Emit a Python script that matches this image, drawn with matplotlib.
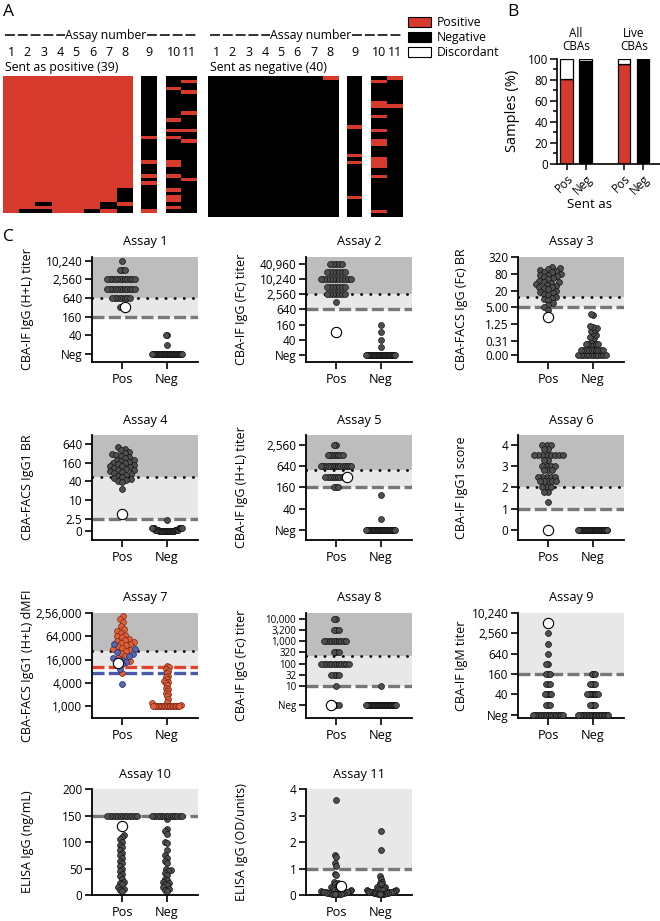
import numpy as np
import matplotlib
matplotlib.use('Agg')
import matplotlib.pyplot as plt
from matplotlib.colors import ListedColormap
from matplotlib.lines import Line2D
from matplotlib.patches import Rectangle
from matplotlib.ticker import NullLocator, MultipleLocator

plt.rcParams['font.family'] = ['Open Sans', 'DejaVu Sans']

W, H = 660, 921
fig = plt.figure(figsize=(6.6, 9.21), dpi=100)


def fr(x0, y0, x1, y1):
    return [x0 / W, 1 - y1 / H, (x1 - x0) / W, (y1 - y0) / H]


def ftxt(x, y, s, **kw):
    return fig.text(x / W, 1 - y / H, s, **kw)


RED = '#d63a2c'

# ---------------- Panel A data ----------------
N_POS, N_NEG = 39, 40
# Sent as positive: rows (0 = top) reported negative, per assay number
POS_BLACK_ROWS = {1: [], 2: [38], 3: [36, 38], 4: [], 5: [], 6: [38], 7: [36, 37],
                  8: [32, 33, 34, 35, 37, 38]}
# for assays 9-11 the rows reported positive
POS_RED_ROWS = {9: [17, 24, 28, 30, 38],
                10: [3, 12, 15, 17, 24, 25, 28, 32, 34, 35, 37],
                11: [1, 4, 10, 15, 18, 29]}
# Sent as negative: rows reported positive
NEG_RED_ROWS = {1: [], 2: [], 3: [], 4: [], 5: [], 6: [], 7: [], 8: [0],
                9: [14, 22, 24, 34],
                10: [1, 7, 8, 11, 15, 18, 19, 23, 24, 25, 28, 38],
                11: [0, 8]}

pos_mat = np.ones((N_POS, 11))
for a, rows in POS_BLACK_ROWS.items():
    pos_mat[rows, a - 1] = 0
for a, rows in POS_RED_ROWS.items():
    pos_mat[:, a - 1] = 0
    pos_mat[rows, a - 1] = 1
neg_mat = np.zeros((N_NEG, 11))
for a, rows in NEG_RED_ROWS.items():
    neg_mat[rows, a - 1] = 1

cmapA = ListedColormap(['#000000', RED])


def heat(x0, x1, y0, y1, mat):
    ax = fig.add_axes(fr(x0, y0, x1, y1))
    ax.imshow(mat, cmap=cmapA, vmin=0, vmax=1, aspect='auto', interpolation='nearest')
    ax.set_axis_off()
    return ax


def heat_side(xs, y0, y1, mat, label, hx):
    (b0, b1), (c0, c1), (d0, d1) = xs
    heat(b0, b1, y0, y1, mat[:, :8])
    heat(c0, c1, y0, y1, mat[:, 8:9])
    heat(d0, d1, y0, y1, mat[:, 9:11])
    cw = (b1 - b0) / 8
    for i in range(8):
        ftxt(b0 + cw * (i + 0.5), 53, str(i + 1), ha='center', va='center', fontsize=9)
    ftxt((c0 + c1) / 2, 53, '9', ha='center', va='center', fontsize=9)
    dw = (d1 - d0) / 2
    ftxt(d0 + dw * 0.5, 53, '10', ha='center', va='center', fontsize=9)
    ftxt(d0 + dw * 1.5, 53, '11', ha='center', va='center', fontsize=9)
    ftxt(b0 + 2, 68, label, ha='left', va='center', fontsize=8.8)
    (l0, l1), tx, (r0, r1) = hx
    for a0, a1 in [(l0, l1), (r0, r1)]:
        fig.add_artist(Line2D([a0 / W, a1 / W], [1 - 35 / H, 1 - 35 / H],
                              transform=fig.transFigure, color='#222222', lw=1.3,
                              ls=(0, (5.5, 1.6))))
    ftxt(tx, 35, 'Assay number', ha='center', va='center', fontsize=8.8)


heat_side([(3, 133), (141, 157), (166, 197)], 76, 213, pos_mat,
          'Sent as positive (39)', ((5, 65), 106, (147, 196)))
heat_side([(208, 338), (347, 362), (371, 403)], 76, 217, neg_mat,
          'Sent as negative (40)', ((210, 270), 311, (352, 402)))
ftxt(3, 12, 'A', ha='left', va='center', fontsize=12.5)

# legend
for i, (lab, fc) in enumerate([('Positive', RED), ('Negative', 'black'), ('Discordant', 'white')]):
    y0 = 17 + 15 * i
    fig.add_artist(Rectangle((408 / W, 1 - (y0 + 10) / H), 23 / W, 10 / H,
                             transform=fig.transFigure, fc=fc, ec='black', lw=0.8))
    ftxt(437, y0 + 5, lab, ha='left', va='center', fontsize=8.8)

# ---------------- Panel B ----------------
B_X = [0, 1, 3, 4]
B_LABELS = ['Pos', 'Neg', 'Pos', 'Neg']
B_POSITIVE = [81, 0, 95, 0]
B_NEGATIVE = [0, 98, 0, 100]
B_DISCORDANT = [19, 2, 5, 0]

axB = fig.add_axes(fr(557, 59, 660, 164))
pb = np.array(B_POSITIVE, float)
nb = np.array(B_NEGATIVE, float)
db = np.array(B_DISCORDANT, float)
axB.bar(B_X, pb, width=0.65, color=RED, edgecolor='black', lw=0.9)
axB.bar(B_X, nb, bottom=pb, width=0.65, color='black', edgecolor='black', lw=0.9)
axB.bar(B_X, db, bottom=pb + nb, width=0.65, color='white', edgecolor='black', lw=0.9)
axB.set_xlim(-0.5, 4.9)
axB.set_ylim(0, 100)
axB.set_yticks([0, 20, 40, 60, 80, 100])
axB.yaxis.set_minor_locator(MultipleLocator(10))
axB.set_xticks(B_X)
axB.set_xticklabels(B_LABELS, rotation=45, ha='right', rotation_mode='anchor', fontsize=8.5)
axB.tick_params(axis='y', labelsize=8.5, length=5, width=1.1, pad=1.5)
axB.tick_params(axis='y', which='minor', length=3, width=1.1)
axB.tick_params(axis='x', length=4, width=1.1, pad=2)
for s in ['top', 'right']:
    axB.spines[s].set_visible(False)
for s in ['left', 'bottom']:
    axB.spines[s].set_linewidth(1.2)
ftxt(513, 111, 'Samples (%)', rotation=90, ha='center', va='center', fontsize=10.5)
ftxt(590, 205, 'Sent as', ha='center', va='center', fontsize=9.5)
ftxt(576, 40, 'All\nCBAs', ha='center', va='center', fontsize=8.5, linespacing=1.05)
ftxt(634, 40, 'Live\nCBAs', ha='center', va='center', fontsize=8.5, linespacing=1.05)
ftxt(507, 12, 'B', ha='left', va='center', fontsize=12.5)

# ---------------- Panel C data ----------------
def rep(vals, counts):
    return np.repeat(np.asarray(vals, float), counts)

A1_POS = rep([10240, 5120, 2560, 1280, 640, 320], [1, 3, 12, 12, 8, 2])
A1_DISC = [320]
A1_NEG = rep([40, 20, 0], [2, 1, 37])

A2_POS = rep([40960, 20480, 10240, 5120, 2560, 1280], [5, 7, 11, 7, 7, 1])
A2_DISC = [80]
A2_NEG = rep([160, 80, 40, 20, 0], [1, 1, 1, 1, 36])

A3_POS = [140, 130, 120, 110, 100, 95, 90, 80, 75, 70, 65, 60, 55, 50, 45, 42, 40, 38, 35,
          32, 30, 28, 26, 24, 22, 20, 18, 16, 15, 14, 12, 11, 10, 9, 7, 6, 5, 4]
A3_DISC = [2.2]
A3_NEG = list(rep([0, 0.15, 0.25], [12, 10, 6])) + [0.35, 0.4, 0.45, 0.5, 0.6, 0.7, 0.8,
                                                     0.9, 1.0, 1.1, 2.6, 2.8]

A4_POS = [500, 450, 400, 350, 320, 300, 280, 260, 240, 220, 200, 190, 180, 170, 160, 150,
          140, 130, 125, 120, 115, 110, 100, 95, 90, 85, 80, 75, 70, 65, 60, 55, 50, 48,
          45, 42, 38, 23]
A4_DISC = [3.4]
A4_NEG = list(rep([1.0, 1.1, 1.2], [20, 10, 9])) + [2.2]

A5_POS = rep([2560, 1280, 640, 320, 160], [2, 8, 15, 10, 3])
A5_DISC = [320]
A5_NEG = rep([100, 20, 0], [1, 1, 38])

A6_POS = rep([4.0, 3.8, 3.5, 3.3, 3.0, 2.8, 2.5, 2.3, 2.0, 1.8, 1.3],
             [3, 2, 8, 2, 4, 3, 5, 5, 3, 2, 1])
A6_DISC = [0]
A6_NEG = rep([0], [40])

A7_POS_RED = [220000, 180000, 150000, 120000, 100000, 90000, 80000, 70000, 65000, 60000,
              55000, 50000, 48000, 45000, 42000, 40000, 38000, 35000, 32000, 30000, 28000,
              26000, 24000, 20000, 18000, 15000, 7000]
A7_POS_BLUE = [40000, 30000, 25000, 22000, 20000, 18000, 16000, 14000, 12000, 9000, 3800]
A7_DISC = [13000]
A7_NEG_RED = [11000, 10000, 9000, 8000, 7000, 6000, 5500, 5000, 4500, 4200, 4000, 3500,
              3000, 2800, 2500, 2200, 2000, 1800, 1500, 1300, 1200, 1100] + list(rep([1000], [18]))

A8_POS = rep([10000, 3200, 1000, 320, 100, 32, 10, 0], [2, 3, 10, 3, 12, 4, 1, 3])
A8_DISC = [0]
A8_NEG = rep([10, 0], [1, 39])

A9_POS = rep([2560, 1280, 640, 320, 160, 80, 40, 20, 0], [1, 1, 1, 2, 3, 3, 5, 3, 19])
A9_DISC = [5120]
A9_NEG = rep([160, 80, 40, 20, 0], [3, 4, 8, 4, 21])

A10_POS = [113, 110, 105, 100, 95, 90, 85, 80, 75, 70, 65, 60, 55, 50, 45, 40, 35, 30, 25,
           22, 20, 15, 12, 10, 8] + list(rep([150], [13]))
A10_DISC = [130]
A10_NEG = [143, 125, 120, 115, 100, 98, 85, 75, 70, 65, 60, 50, 47, 45, 42, 38, 30, 28, 25,
           22, 20, 18, 15, 12, 10, 8] + list(rep([150], [14]))

A11_POS = [3.6, 1.5, 1.45, 1.2, 1.1, 0.8, 0.75, 0.5, 0.45, 0.4, 0.35, 0.3, 0.3, 0.25, 0.2,
           0.2, 0.2, 0.18, 0.15, 0.15, 0.12, 0.12, 0.1, 0.1, 0.1, 0.1, 0.08, 0.08, 0.08, 0.06,
           0.06, 0.05, 0.05, 0.05, 0.04, 0.04, 0.03, 0.03]
A11_DISC = [0.35]
A11_NEG = [2.4, 1.7, 0.7, 0.6, 0.5, 0.45, 0.4, 0.3, 0.3, 0.25, 0.22, 0.2, 0.2, 0.2, 0.18,
           0.18, 0.15, 0.15, 0.15, 0.12, 0.12, 0.12, 0.1, 0.1, 0.1, 0.1, 0.1, 0.08, 0.08, 0.08,
           0.07, 0.06, 0.06, 0.05, 0.05, 0.05, 0.04, 0.04, 0.03, 0.03]

GRAY = ('#4f4f4f', '#111111', 18, 0.5)
WHITE = ('white', 'black', 55, 0.8)
RED7 = ('#e0603a', '#7a2614', 18, 0.5)
BLUE7 = ('#5467b0', '#1f2a66', 18, 0.5)

TITER_T = [10, 40, 160, 640, 2560, 10240]
TITER_L = ['Neg', '40', '160', '640', '2,560', '10,240']

assays = [
    dict(t='Assay 1', yl='CBA-IF IgG (H+L) titer', sc=('log', 4), lim=(5.5, 13400),
         ticks=TITER_T, labels=TITER_L, dark=640, light=160, dot=640, dash=[(160, '#777777')],
         floor=10, pos=[(A1_POS, GRAY), (A1_DISC, WHITE)], neg=[(A1_NEG, GRAY)]),
    dict(t='Assay 2', yl='CBA-IF IgG (Fc) titer', sc=('log', 4), lim=(5.2, 78000),
         ticks=TITER_T + [40960], labels=TITER_L + ['40,960'], dark=2560, light=640, dot=2560,
         dash=[(640, '#777777')], floor=10,
         pos=[(A2_POS, GRAY), (A2_DISC, WHITE)], neg=[(A2_NEG, GRAY)]),
    dict(t='Assay 3', yl='CBA-FACS IgG (Fc) BR', sc=('log', 4), lim=(0.055, 320),
         ticks=[0.1, 0.3125, 1.25, 5, 20, 80, 320],
         labels=['0.00', '0.31', '1.25', '5.00', '20', '80', '320'],
         dark=12, light=5, dot=12, dash=[(5, '#777777')], floor=0.1,
         pos=[(A3_POS, GRAY), (A3_DISC, WHITE)], neg=[(A3_NEG, GRAY)]),
    dict(t='Assay 4', yl='CBA-FACS IgG1 BR', sc=('log', 4), lim=(0.51, 1240),
         ticks=[1.0, 2.5, 10, 40, 160, 640], labels=['0', '2.5', '10', '40', '160', '640'],
         dark=53, light=2.5, dot=53, dash=[(2.5, '#777777')], floor=None,
         pos=[(A4_POS, GRAY), (A4_DISC, WHITE)], neg=[(A4_NEG, GRAY)]),
    dict(t='Assay 5', yl='CBA-IF IgG (H+L) titer', sc=('log', 4), lim=(5.2, 4800),
         ticks=TITER_T[:5], labels=TITER_L[:5], dark=500, light=160, dot=500,
         dash=[(160, '#777777')], floor=10,
         pos=[(A5_POS, GRAY), (A5_DISC, WHITE)], neg=[(A5_NEG, GRAY)]),
    dict(t='Assay 6', yl='CBA-IF IgG1 score', sc=('linear', None), lim=(-0.47, 4.45),
         ticks=[0, 1, 2, 3, 4], labels=['0', '1', '2', '3', '4'],
         dark=2, light=1, dot=2, dash=[(1, '#777777')], floor=None,
         pos=[(A6_POS, GRAY), (A6_DISC, WHITE)], neg=[(A6_NEG, GRAY)]),
    dict(t='Assay 7', yl='CBA-FACS IgG1 (H+L) dMFI', sc=('log', 4), lim=(493, 256000),
         ticks=[1000, 4000, 16000, 64000, 256000],
         labels=['1,000', '4,000', '16,000', '64,000', '2,56,000'],
         dark=27000, light=10500, dot=27000, dash=[(10500, '#e0452f'), (7300, '#4a5aa8')],
         floor=None, pos=[(A7_POS_RED, RED7), (A7_POS_BLUE, BLUE7), (A7_DISC, WHITE)],
         neg=[(A7_NEG_RED, RED7)]),
    dict(t='Assay 8', yl='CBA-IF IgG (Fc) titer', sc=('log', 10), lim=(0.36, 18700),
         ticks=[1.4, 10, 32, 100, 320, 1000, 3200, 10000],
         labels=['Neg', '10', '32', '100', '320', '1,000', '3,200', '10,000'],
         dark=220, light=10, dot=220, dash=[(10, '#777777')], floor=1.4, tsize=7.0,
         pos=[(A8_POS, GRAY), (A8_DISC, WHITE)], neg=[(A8_NEG, GRAY)]),
    dict(t='Assay 9', yl='CBA-IF IgM titer', sc=('log', 4), lim=(8.0, 10240),
         ticks=TITER_T, labels=TITER_L, dark=None, light=160, dot=None,
         dash=[(160, '#777777')], floor=10,
         pos=[(A9_POS, GRAY), (A9_DISC, WHITE)], neg=[(A9_NEG, GRAY)]),
    dict(t='Assay 10', yl='ELISA IgG (ng/mL)', sc=('linear', None), lim=(0, 200),
         ticks=[0, 50, 100, 150, 200], labels=['0', '50', '100', '150', '200'],
         dark=None, light=150, dot=None, dash=[(150, '#777777')], floor=None,
         pos=[(A10_POS, GRAY), (A10_DISC, WHITE)], neg=[(A10_NEG, GRAY)]),
    dict(t='Assay 11', yl='ELISA IgG (OD/units)', sc=('linear', None), lim=(0, 4),
         ticks=[0, 1, 2, 3, 4], labels=['0', '1', '2', '3', '4'],
         dark=None, light=1, dot=None, dash=[(1, '#777777')], floor=None,
         pos=[(A11_POS, GRAY), (A11_DISC, WHITE)], neg=[(A11_NEG, GRAY)]),
]

COLS = [92, 306, 518]
ROWS = [(257, 362), (435, 540), (613, 718), (789, 895)]
LABX = [27, 242, 462]
AXW = 106
DARK, LIGHT = '#bdbdbd', '#e8e8e8'


def swarm_offsets(ypix, d):
    ypix = np.asarray(ypix, float)
    order = np.argsort(ypix, kind='stable')
    px_l, py_l = [], []
    xs = np.zeros(len(ypix))
    for i in order:
        y = ypix[i]
        cands = [0.0]
        forb = []
        for px, py in zip(px_l, py_l):
            dy = abs(py - y)
            if dy < d:
                w = np.sqrt(d * d - dy * dy)
                forb.append((px - w, px + w))
                cands += [px - w, px + w]
        ok = [c for c in cands if all(not (a + 1e-6 < c < b - 1e-6) for a, b in forb)]
        best = min(ok, key=abs)
        xs[i] = best
        px_l.append(best)
        py_l.append(y)
    return xs


def draw_group(ax, xc, series, floor, wmax=15.0, d=4.6):
    vals, styles = [], []
    for v, st in series:
        v = np.asarray(v, float)
        if floor is not None:
            v = np.maximum(v, floor)
        vals.append(v)
        styles.append(np.full(len(v), len(styles)))
    allv = np.concatenate(vals)
    sid = np.concatenate(styles)
    ypix = ax.transData.transform(np.column_stack([np.full(len(allv), xc), allv]))[:, 1]
    off = swarm_offsets(ypix, d)
    m = np.max(np.abs(off)) if len(off) else 0
    if m > wmax:
        off = off * wmax / m
    ppu = ax.transData.transform([[1, 0]])[0, 0] - ax.transData.transform([[0, 0]])[0, 0]
    xs = xc + off / ppu
    for k, (v, st) in enumerate(series):
        fc, ec, s, lw = st
        sel = sid == k
        ax.scatter(xs[sel], allv[sel], s=s, c=fc, edgecolors=ec, linewidths=lw, zorder=5 + k,
                   clip_on=False)


for i, a in enumerate(assays):
    r, c = divmod(i, 3)
    top, bot = ROWS[r]
    x0 = COLS[c]
    ax = fig.add_axes(fr(x0, top, x0 + AXW, bot))
    kind, base = a['sc']
    if kind == 'log':
        ax.set_yscale('log', base=base)
    ax.set_xlim(-0.67, 1.69)
    ax.set_ylim(*a['lim'])
    ytop = a['lim'][1]
    if a['dark'] is not None:
        ax.axhspan(a['dark'], ytop, color=DARK, lw=0, zorder=0)
        ax.axhspan(a['light'], a['dark'], color=LIGHT, lw=0, zorder=0)
    else:
        ax.axhspan(a['light'], ytop, color=LIGHT, lw=0, zorder=0)
    for yv, col in a['dash']:
        ax.axhline(yv, color=col, lw=2.4, ls=(0, (3.6, 1.3)), zorder=2)
    if a['dot'] is not None:
        ax.axhline(a['dot'], color='black', lw=2.0, ls=(0, (0.1, 3.2)),
                   dash_capstyle='round', zorder=3)
    ax.set_yticks(a['ticks'])
    ax.set_yticklabels(a['labels'])
    ax.yaxis.set_minor_locator(NullLocator())
    ax.set_xticks([0, 1])
    ax.set_xticklabels(['Pos', 'Neg'])
    ax.tick_params(axis='y', labelsize=a.get('tsize', 8.5), length=5, width=1.2, pad=2)
    ax.tick_params(axis='x', labelsize=9.2, length=5, width=1.2, pad=3)
    for s in ['top', 'right']:
        ax.spines[s].set_visible(False)
    for s in ['left', 'bottom']:
        ax.spines[s].set_linewidth(1.3)
    draw_group(ax, 0, a['pos'], a['floor'])
    draw_group(ax, 1, a['neg'], a['floor'])
    ftxt(x0 + AXW / 2, top - 15, a['t'], ha='center', va='center', fontsize=9.2)
    ftxt(LABX[c], (top + bot) / 2, a['yl'], rotation=90, ha='center', va='center',
         fontsize=9)

ftxt(3, 237, 'C', ha='left', va='center', fontsize=12.5)

fig.savefig('out.png', dpi=100)
